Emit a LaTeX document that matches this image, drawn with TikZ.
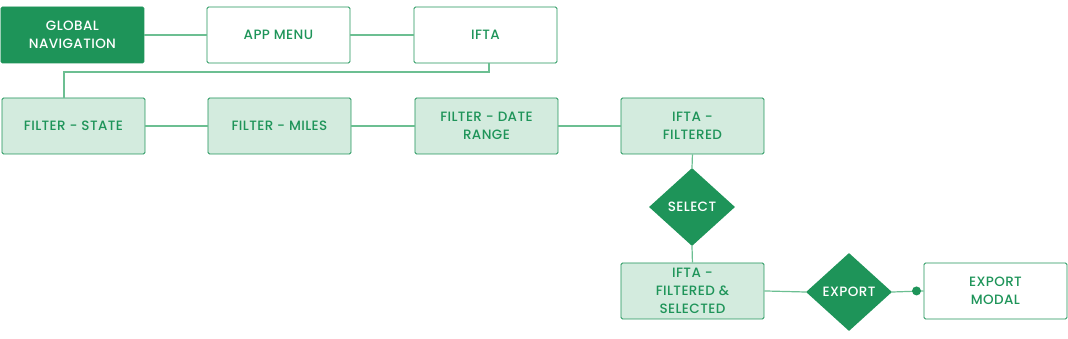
\documentclass[tikz,border=0pt]{standalone}
\usepackage{fontspec}
\setmainfont{Poppins}[UprightFont=* Medium,LetterSpace=3]
\usetikzlibrary{shapes.geometric}
\definecolor{dg}{HTML}{1E9459}
\definecolor{lg}{HTML}{D3EBDE}
\definecolor{ln}{HTML}{6CBF92}
\begin{document}
\begin{tikzpicture}[x=1pt,y=-1pt,
  box/.style={draw=dg,line width=0.9pt,rounded corners=1.5pt,minimum width=143pt,minimum height=56pt,inner sep=0pt,align=center,text=dg,font=\fontsize{13.5}{18}\selectfont,anchor=north west},
  dark/.style={box,fill=dg,text=white},
  light/.style={box,fill=lg},
  dia/.style={diamond,fill=dg,text=white,draw=none,minimum width=86pt,minimum height=78pt,inner sep=0pt,aspect=1.1,font=\fontsize{13.5}{18}\selectfont},
  conn/.style={draw=ln,line width=1.2pt}]
\useasboundingbox (0,0) rectangle (1068,338);
\node[dark] (gn) at (0.5,6.5) {GLOBAL\\NAVIGATION};
\node[box] (am) at (206.5,6.5) {APP MENU};
\node[box] (ifta) at (413.5,6.5) {IFTA};
\node[light] (fs) at (1.5,97.5) {FILTER - STATE};
\node[light] (fm) at (207.5,97.5) {FILTER - MILES};
\node[light] (fd) at (414.5,97.5) {FILTER - DATE\\RANGE};
\node[light] (iff) at (620.5,97.5) {IFTA -\\FILTERED};
\node[dia] (sel) at (692,207) {SELECT};
\node[light] (ifs) at (620.5,262.5) {IFTA -\\FILTERED \&\\SELECTED};
\node[dia] (exp) at (849,292) {EXPORT};
\node[box] (em) at (923.5,262.5) {EXPORT\\MODAL};
\coordinate (c1) at (489,72);
\coordinate (c2) at (64,72);
\draw[conn] (gn.east) -- (am.west);
\draw[conn] (am.east) -- (ifta.west);
\draw[conn] (ifta.south -| c1) -- (c1) -- (c2) -- (fs.north -| c2);
\draw[conn] (fs.east) -- (fm.west);
\draw[conn] (fm.east) -- (fd.west);
\draw[conn] (fd.east) -- (iff.west);
\draw[conn] (iff.south) -- (sel.north);
\draw[conn] (sel.south) -- (ifs.north);
\draw[conn] (ifs.east) -- (exp.west);
\draw[conn] (exp.east) -- (em.west);
\fill[dg] ([xshift=-7pt]em.west) circle (4.5pt);
\end{tikzpicture}
\end{document}
